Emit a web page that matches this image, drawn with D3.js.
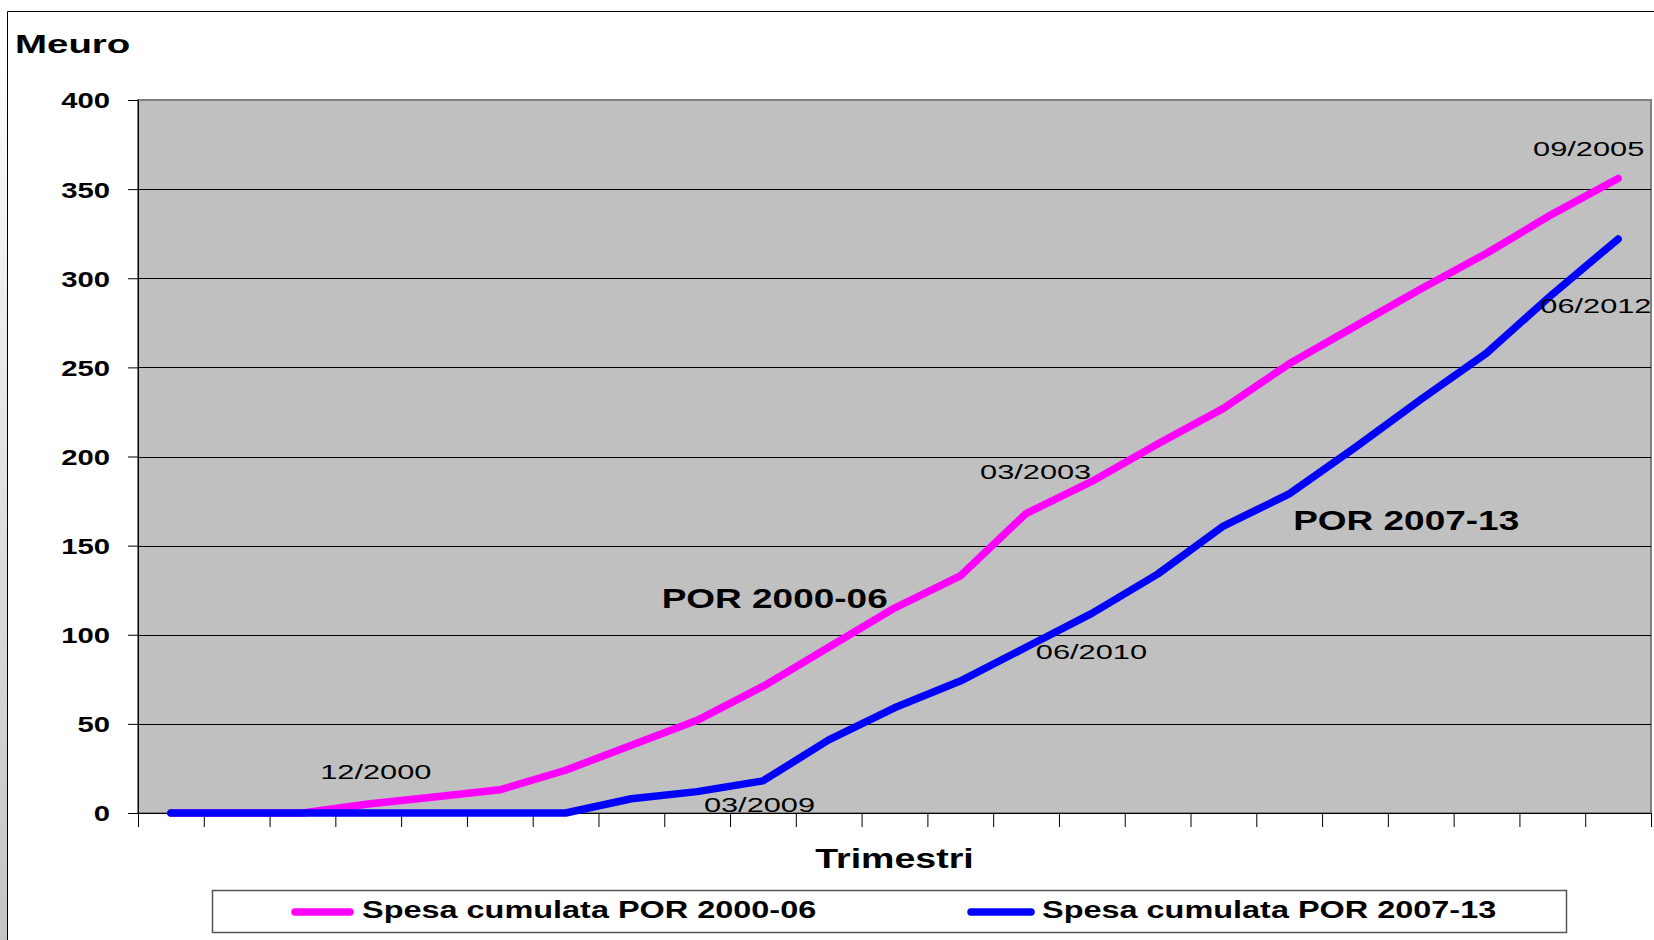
<!DOCTYPE html>
<html>
<head>
<meta charset="utf-8">
<script src="https://cdn.jsdelivr.net/npm/d3@7"></script>
<style>
  body { margin: 0; background: #fff; }
  svg { display: block; font-family: "Liberation Sans", Arial, sans-serif; }
</style>
</head>
<body>
<script>
const width = 1654;
const height = 940;
const margin = { top: 100, right: 3, bottom: 127, left: 138 };
const innerWidth = width - margin.left - margin.right;
const innerHeight = height - margin.top - margin.bottom;

// trimestri along the x axis (no tick labels in the original)
const quarters = ["1", "2", "3", "4", "5", "6", "7", "8", "9", "10", "11", "12",
    "13", "14", "15", "16", "17", "18", "19", "20", "21", "22", "23"];
const spesa2000 = [0, 0, 0, 5, 9, 13, 24, 38, 52, 71, 93, 115, 133, 168, 186, 207, 227, 252, 273, 294, 314, 336, 356];
const spesa2007 = [0, 0, 0, 0, 0, 0, 0, 8, 12, 18, 41, 59, 74, 93, 112, 134, 161, 179, 205, 232, 258, 291, 322];
const yTicks = [0, 50, 100, 150, 200, 250, 300, 350, 400];
const seriesNames = ["Spesa cumulata POR 2000-06", "Spesa cumulata POR 2007-13"];
const seriesTags = ["POR 2000-06", "POR 2007-13"];
const labels2000 = [{ i: 3, text: "12/2000" }, { i: 13, text: "03/2003" }, { i: 22, text: "09/2005" }];
const labels2007 = [{ i: 9, text: "03/2009" }, { i: 14, text: "06/2010" }, { i: 21, text: "06/2012" }];

const pinkColor = "#ff00ff";
const blueColor = "#0000ff";
const plotBg = "#c0c0c0";
const lineWidth = 7.5;

// offsets of the date labels from their point (px)
const labelOffset = {
    "12/2000": [-48, -25], "03/2003": [-46, -35], "09/2005": [-85, -22],
    "03/2009": [-59, 31], "06/2010": [-56, 46], "06/2012": [-12, 19]
};

const svg = d3.select("body").append("svg")
    .attr("width", width)
    .attr("height", height);

// the text in the original is stretched sideways
function stretch(sel, k) {
    sel.each(function () {
        const n = this.getComputedTextLength();
        d3.select(this).attr("textLength", n * k).attr("lengthAdjust", "spacingAndGlyphs");
    });
    return sel;
}

// outer frame + a bit of shadow on the left
const grad = svg.append("defs").append("linearGradient")
    .attr("id", "side").attr("x1", 0).attr("y1", 0).attr("x2", 0).attr("y2", 1);
grad.append("stop").attr("offset", "0%").attr("stop-color", "#ffffff");
grad.append("stop").attr("offset", "100%").attr("stop-color", "#c4c4c4");
svg.append("rect").attr("x", 0).attr("y", 12).attr("width", 7).attr("height", height - 12)
    .attr("fill", "url(#side)");
svg.append("path")
    .attr("d", `M7.5,${height} V11.5 H${width}`)
    .attr("fill", "none").attr("stroke", "#000").attr("stroke-width", 1);

const g = svg.append("g").attr("transform", `translate(${margin.left},${margin.top})`);

const xScale = d3.scaleBand().domain(quarters).range([0, innerWidth]).padding(0);
const xLin = d3.scaleLinear().domain([0, quarters.length]).range([0, innerWidth]);
const yScale = d3.scaleLinear().domain([0, 400]).range([innerHeight, 0]);
const xPos = i => xScale(quarters[i]) + xScale.bandwidth() / 2;

g.append("rect")
    .attr("x", 0).attr("y", 0)
    .attr("width", innerWidth).attr("height", innerHeight)
    .attr("fill", plotBg)
    .attr("stroke", "#808080").attr("stroke-width", 2);

g.selectAll(".grid")
    .data(yTicks.filter(d => d > 0 && d < 400))
    .join("line")
    .attr("x1", 0).attr("x2", innerWidth)
    .attr("y1", d => Math.round(yScale(d)) + 0.5)
    .attr("y2", d => Math.round(yScale(d)) + 0.5)
    .attr("stroke", "#000").attr("stroke-width", 1);

// y axis
const yAxis = g.append("g")
    .call(d3.axisLeft(yScale).tickValues(yTicks).tickSize(10).tickSizeOuter(0).tickPadding(18));
yAxis.selectAll("line, path").attr("stroke", "#000");
yAxis.selectAll("text")
    .attr("dy", "0.36em")
    .attr("fill", "#000")
    .style("font-size", "22px").style("font-weight", "bold")
    .call(stretch, 1.33);

// x axis: ticks between the quarters
const xAxis = g.append("g")
    .attr("transform", `translate(0,${innerHeight})`)
    .call(d3.axisBottom(xLin).tickValues(d3.range(quarters.length + 1)).tickSize(14).tickSizeOuter(0).tickFormat(""));
xAxis.selectAll("line, path").attr("stroke", "#000");

// lines
const line = d3.line()
    .x((d, i) => xPos(i))
    .y(d => yScale(d));

[[spesa2000, pinkColor], [spesa2007, blueColor]].forEach(([vals, color]) => {
    g.append("path")
        .datum(vals)
        .attr("d", line)
        .attr("fill", "none")
        .attr("stroke", color)
        .attr("stroke-width", lineWidth)
        .attr("stroke-linecap", "round")
        .attr("stroke-linejoin", "round");
});

// date labels
[[labels2000, spesa2000], [labels2007, spesa2007]].forEach(([labs, vals]) => {
    labs.forEach(l => {
        const [dx, dy] = labelOffset[l.text];
        g.append("text")
            .attr("x", xPos(l.i) + dx)
            .attr("y", yScale(vals[l.i]) + dy)
            .attr("fill", "#000")
            .style("font-size", "20.5px")
            .text(l.text)
            .call(stretch, 1.5);
    });
});

// series tags inside the plot
g.append("text")
    .attr("x", xPos(10) - 167).attr("y", yScale(spesa2000[10]) - 39)
    .style("font-size", "28px").style("font-weight", "bold")
    .text(seriesTags[0])
    .call(stretch, 1.32);
g.append("text")
    .attr("x", xPos(17) + 4).attr("y", yScale(spesa2007[17]) + 36)
    .style("font-size", "28px").style("font-weight", "bold")
    .text(seriesTags[1])
    .call(stretch, 1.32);

// axis titles
svg.append("text")
    .attr("x", 15).attr("y", 53)
    .style("font-size", "26.5px").style("font-weight", "bold")
    .text("Meuro")
    .call(stretch, 1.45);
svg.append("text")
    .attr("x", margin.left + innerWidth / 2).attr("y", 868)
    .attr("text-anchor", "middle")
    .style("font-size", "28px").style("font-weight", "bold")
    .text("Trimestri")
    .call(stretch, 1.34);

// legend
const legend = svg.append("g");
legend.append("rect")
    .attr("x", 212.5).attr("y", 890.5)
    .attr("width", 1354).attr("height", 42)
    .attr("fill", "#fff")
    .attr("stroke", "#555").attr("stroke-width", 1.5);

const legendItems = [
    { name: seriesNames[0], color: pinkColor, x0: 295, x1: 350, tx: 362 },
    { name: seriesNames[1], color: blueColor, x0: 971, x1: 1031, tx: 1042 }
];
legendItems.forEach(d => {
    legend.append("line")
        .attr("x1", d.x0).attr("x2", d.x1)
        .attr("y1", 912).attr("y2", 912)
        .attr("stroke", d.color).attr("stroke-width", lineWidth)
        .attr("stroke-linecap", "round");
    legend.append("text")
        .attr("x", d.tx).attr("y", 918)
        .style("font-size", "23px").style("font-weight", "bold")
        .text(d.name)
        .call(stretch, 1.41);
});
</script>
</body>
</html>
